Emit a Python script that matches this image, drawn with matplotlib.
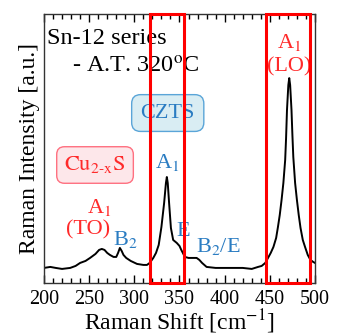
import matplotlib
matplotlib.use("Agg")
import matplotlib.pyplot as plt
from matplotlib.patches import Rectangle
from matplotlib.ticker import MultipleLocator

plt.rcParams['font.family'] = ['Liberation Serif', 'DejaVu Serif']
plt.rcParams['mathtext.fontset'] = 'stix'

# spectrum
shift = [200, 207, 213, 220, 229, 235, 240, 246, 251, 257, 261, 264, 267, 270,
         273, 277, 280, 282, 284, 286, 288, 291, 296, 303, 310, 314, 317, 321,
         324, 327, 330, 333, 335, 336, 337, 338.5, 340.5, 343, 347, 350, 352,
         356, 360, 365, 369, 372, 375, 380, 390, 400, 410, 420, 430, 437, 441,
         445, 448, 451, 454, 457, 459, 461, 463, 465, 467, 468, 469, 470.5,
         471.5, 472.5, 474, 475, 476, 478, 480, 482, 484, 486.5, 489, 492, 495,
         498, 500]
intensity = [15, 16, 15, 14, 15, 17, 20, 22, 25, 29, 33, 34, 33, 30,
             28, 26, 26, 30, 35, 32, 28, 25, 22, 19, 18, 18, 20, 25,
             30, 38, 56, 80, 100, 106, 100, 80, 55, 43, 40, 37, 33,
             26, 25, 25, 25, 23, 20, 16, 15, 15, 15, 15, 14, 16, 17,
             20, 25, 30, 36, 45, 56, 68, 83, 100, 123, 145, 173, 198,
             205, 198, 173, 148, 126, 100, 83, 68, 55, 43, 36, 28, 23,
             21, 20]

boxes = [(317, 355), (446, 494)]

red = '#ff2a2a'
blue = '#2a7cc2'

fig = plt.figure(figsize=(3.45, 3.36), dpi=100)
ax = fig.add_axes([0.1275, 0.158, 0.7855, 0.8])
ax.plot(shift, intensity, color='black', lw=1.4)
ax.set_xlim(200, 500)
ax.set_ylim(0, 269)

ax.xaxis.set_major_locator(MultipleLocator(50))
ax.xaxis.set_minor_locator(MultipleLocator(10))
ax.tick_params(axis='x', which='major', direction='in', length=6, width=1,
               top=True, labelsize=14.5, pad=5)
ax.tick_params(axis='x', which='minor', direction='in', length=3.5, width=1, top=True)
ax.set_yticks([])
for s in ax.spines.values():
    s.set_linewidth(1)
    s.set_color('#333333')

ax.set_xlabel('Raman Shift [cm$^{\\mathrm{-1}}$]', fontsize=17, labelpad=-1)
ax.set_ylabel('Raman Intensity [a.u.]', fontsize=17, labelpad=3)

for x0, x1 in boxes:
    ax.add_patch(Rectangle((x0, 0), x1 - x0, 269, fill=False, edgecolor='red',
                           lw=2.2, clip_on=False, zorder=5))

ax.text(203, 245, 'Sn-12 series', fontsize=17.5, ha='left', va='center')
ax.text(231, 216, '- A.T. 320$^{\\mathrm{o}}$C', fontsize=17.5, ha='left', va='center')

ax.text(337, 170, 'CZTS', fontsize=16, color=blue, ha='center', va='center',
        bbox=dict(boxstyle='round,pad=0.4', fc='#d9edf3', ec='#5aa5d8', lw=1))
ax.text(256.5, 118, '$\\mathrm{Cu}_{\\mathrm{2\\text{-}x}}\\mathrm{S}$', fontsize=16,
        color=red, ha='center', va='center',
        bbox=dict(boxstyle='round,pad=0.35', fc='#fde7ea', ec='#ff7080', lw=1))

ax.text(336, 121, 'A$_{\\mathrm{1}}$', fontsize=16, color=blue, ha='center', va='center')
ax.text(261, 75, 'A$_{\\mathrm{1}}$', fontsize=16, color=red, ha='center', va='center')
ax.text(249, 53, '(TO)', fontsize=16, color=red, ha='center', va='center')
ax.text(290, 43, 'B$_{\\mathrm{2}}$', fontsize=16, color=blue, ha='center', va='center')
ax.text(354, 51, 'E', fontsize=16, color=blue, ha='center', va='center')
ax.text(392.6, 36, 'B$_{\\mathrm{2}}$/E', fontsize=16, color=blue, ha='center', va='center')
ax.text(471, 241, 'A$_{\\mathrm{1}}$', fontsize=16, color=red, ha='center', va='center')
ax.text(471, 216, '(LO)', fontsize=16, color=red, ha='center', va='center')

fig.savefig('out.png', dpi=100)
